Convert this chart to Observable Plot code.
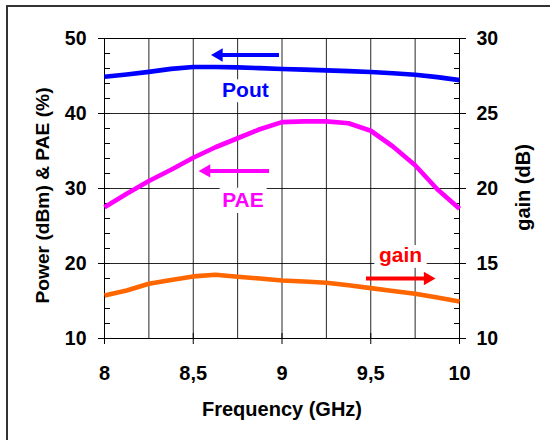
<!DOCTYPE html>
<html>
<head>
<meta charset="utf-8">
<script src="https://cdn.jsdelivr.net/npm/d3@7"></script>
<script src="https://cdn.jsdelivr.net/npm/@observablehq/plot@0.6"></script>
<style>
  html, body { margin: 0; padding: 0; background: #fff; }
  #wrap { position: relative; width: 550px; height: 440px; overflow: hidden; }
  #frame { position: absolute; left: 6px; top: 5px; width: 600px; height: 500px;
           border-left: 2px solid #333; border-top: 2px solid #333; pointer-events: none; }
</style>
</head>
<body>
<div id="wrap"><div id="frame"></div></div>
<script>
// ---- data ----
const freq = [8, 8.125, 8.25, 8.375, 8.5, 8.625, 8.75, 8.875, 9, 9.125, 9.25, 9.375, 9.5, 9.625, 9.75, 9.875, 10];
const pout = [44.9, 45.2, 45.55, 45.95, 46.2, 46.2, 46.15, 46.05, 45.93, 45.85, 45.75, 45.65, 45.53, 45.37, 45.17, 44.85, 44.45];
const pae  = [27.5, 29.3, 31.0, 32.5, 34.1, 35.5, 36.7, 37.9, 38.85, 38.95, 38.95, 38.7, 37.7, 35.6, 33.1, 29.9, 27.3];
const gain = [12.87, 13.2, 13.65, 13.9, 14.14, 14.25, 14.12, 14.0, 13.87, 13.8, 13.72, 13.55, 13.36, 13.17, 12.98, 12.73, 12.47];

const leftTicks = [10, 20, 30, 40, 50];
const leftMinor = d3.range(10, 50.01, 2);
const rightTicks = [10, 15, 20, 25, 30];
const xTicks = [8, 8.5, 9, 9.5, 10];
const xGrid = [8.25, 8.5, 8.75, 9, 9.25, 9.5, 9.75];
const yGrid = [20, 30, 40];

const seriesNames = ["Pout", "PAE", "gain"];
const seriesColors = ["#0000ff", "#ff00ff", "#ff6600"];
const arrowColors = ["#0000ff", "#ff00ff", "#ff0000"];
const labelColors = ["#0000ff", "#ff00ff", "#ff0000"];
// annotation arrows (tail x1 -> tip x2 at y; gain arrow y in dB on right axis)
const arrowX1 = [8.986, 8.93, 9.476];
const arrowX2 = [8.60, 8.53, 9.865];
const arrowY = [47.8, 32.35, 14.0];
const labelX = [8.794, 8.78, 9.668];
const labelY = [43.1, 28.44, 15.55];

// gain (right axis, 10..30 dB) mapped onto left scale (10..50)
const g2l = g => 10 + (g - 10) * 2;
const fmt = d => String(d).replace(".", ",");

const rows = [];
freq.forEach((f, i) => {
  rows.push({f, v: pout[i], s: "Pout"});
  rows.push({f, v: pae[i], s: "PAE"});
  rows.push({f, v: g2l(gain[i]), s: "gain"});
});
const arrows = seriesNames.map((s, i) => ({
  s, tail: arrowX1[i], tip: arrowX2[i], y: s === "gain" ? g2l(arrowY[i]) : arrowY[i], c: arrowColors[i],
  dir: arrowX2[i] < arrowX1[i] ? -1 : 1
}));
const labels = seriesNames.map((s, i) => ({
  s, x: labelX[i], y: s === "gain" ? g2l(labelY[i]) : labelY[i], c: labelColors[i]
}));
const leftArrows = arrows.filter(a => a.dir < 0);
const rightArrows = arrows.filter(a => a.dir > 0);

const chart = Plot.plot({
  width: 550,
  height: 440,
  marginLeft: 104,
  marginRight: 91,
  marginTop: 38,
  marginBottom: 102,
  style: {fontFamily: "'Liberation Sans', Arial, sans-serif", fontWeight: "bold", background: "#fff", overflow: "visible"},
  x: {domain: [8, 10], axis: null},
  y: {domain: [10, 50], axis: null},
  color: {domain: seriesNames, range: seriesColors},
  marks: [
    // grid
    Plot.ruleX(xGrid, {stroke: "#000", strokeWidth: 1, strokeOpacity: 0.85}),
    Plot.ruleY(yGrid, {stroke: "#000", strokeWidth: 1, strokeOpacity: 0.85}),
    Plot.frame({stroke: "#000", strokeWidth: 1}),
    // left axis ticks
    Plot.axisY({anchor: "left", ticks: leftMinor, tickSize: 6, dx: 6, tickFormat: () => "", label: null}),
    Plot.axisY({anchor: "left", ticks: leftTicks, tickSize: 12, dx: 6, tickFormat: () => "", label: null}),
    Plot.axisY({anchor: "left", ticks: leftTicks, tickSize: 0, tickPadding: 18, fontSize: 19.5, fontWeight: "bold", label: null}),
    // right axis ticks (gain)
    Plot.axisY({anchor: "right", ticks: leftMinor, tickSize: 6, dx: -6, tickFormat: () => "", label: null}),
    Plot.axisY({anchor: "right", ticks: rightTicks.map(g2l), tickSize: 12, dx: -6, tickFormat: () => "", label: null}),
    Plot.axisY({anchor: "right", ticks: rightTicks.map(g2l), tickSize: 0, tickPadding: 17, fontSize: 19.5, fontWeight: "bold",
      tickFormat: v => String((v + 10) / 2), label: null}),
    // bottom axis
    Plot.axisX({anchor: "bottom", ticks: xTicks, tickSize: 11, dy: -5, tickFormat: () => "", label: null}),
    Plot.axisX({anchor: "bottom", ticks: xTicks, tickSize: 0, tickPadding: 27, fontSize: 20, fontWeight: "bold", tickFormat: fmt, label: null}),
    // axis titles
    Plot.text(["Power (dBm) & PAE (%)"], {frameAnchor: "left", text: d => d, rotate: -90, dx: -62, dy: 7, textAnchor: "middle", lineAnchor: "middle", fontSize: 19.2, fontWeight: "bold", fill: "#000"}),
    Plot.text(["gain (dB)"], {frameAnchor: "right", text: d => d, rotate: -90, dx: 64, dy: -1, textAnchor: "middle", lineAnchor: "middle", fontSize: 20, fontWeight: "bold", fill: "#000"}),
    Plot.text(["Frequency (GHz)"], {frameAnchor: "bottom", text: d => d, dy: 71, textAnchor: "middle", lineAnchor: "middle", fontSize: 20, fontWeight: "bold", fill: "#000"}),
    // labels with white box
    Plot.text(labels, {x: "x", y: "y", text: "s", fill: "c", stroke: "#fff", strokeWidth: 12, paintOrder: "stroke", fontSize: 21, fontWeight: "bold"}),
    // series lines
    Plot.line(rows, {x: "f", y: "v", z: "s", stroke: "s", strokeWidth: 4.6, strokeLinejoin: "round", strokeLinecap: "butt"}),
    // arrows: shaft + filled head
    Plot.ruleY(leftArrows, {y: "y", x1: "tip", x2: "tail", insetLeft: 7, stroke: "c", strokeWidth: 4}),
    Plot.ruleY(rightArrows, {y: "y", x1: "tail", x2: "tip", insetRight: 7, stroke: "c", strokeWidth: 4}),
    Plot.dot(leftArrows, {x: "tip", y: "y", symbol: "triangle", r: 5, fill: "c", stroke: null, rotate: -90, dx: 7.8}),
    Plot.dot(rightArrows, {x: "tip", y: "y", symbol: "triangle", r: 5, fill: "c", stroke: null, rotate: 90, dx: -7.8})
  ]
});
document.getElementById("wrap").prepend(chart);
</script>
</body>
</html>
